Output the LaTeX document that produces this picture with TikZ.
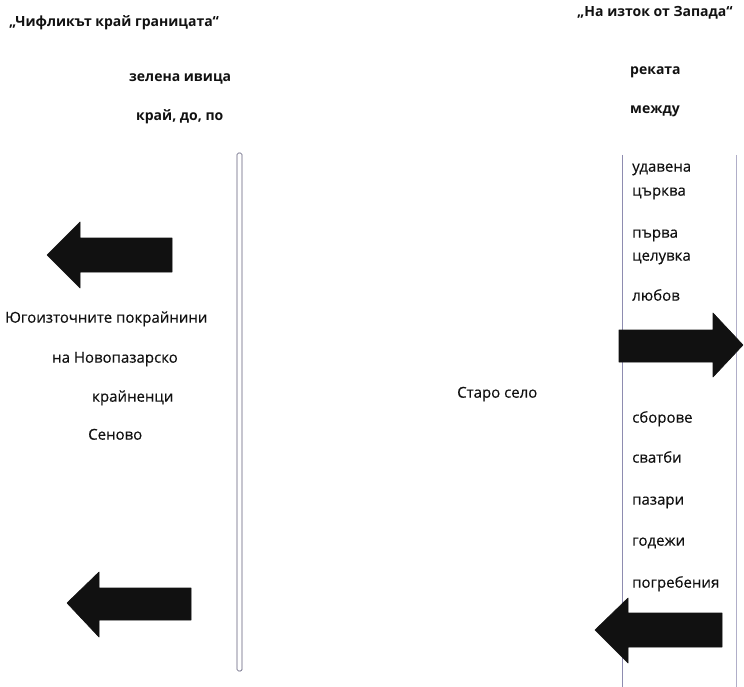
\documentclass[tikz,border=0pt]{standalone}
\usepackage{fontspec}
\setmainfont{Open Sans}
\newfontfamily\medfont[FakeBold=0.35]{Open Sans}
\definecolor{ink}{HTML}{111111}
\definecolor{barline}{HTML}{5E5C78}
\definecolor{colline}{HTML}{8E8CB0}
\begin{document}
\begin{tikzpicture}[x=1pt,y=-1pt,
  lbl/.style={inner sep=0pt,anchor=mid west,text=ink,font=\medfont\fontsize{15}{17}\selectfont},
  blbl/.style={lbl,font=\fontsize{14}{16}\selectfont\bfseries},
  bigarrow/.style={fill=ink,draw=ink,line width=0.6pt,line join=round}]
\useasboundingbox (0,0) rectangle (744,687);
% titles
\node[blbl] (t1) at (9,24) {„Чифликът край границата“};
\node[blbl] (t2) at (577,14) {„На изток от Запада“};
% left header
\node[blbl] (zi) at (129,79) {зелена ивица};
\node[blbl] (kd) at (136,118) {край, до, по};
% right header
\node[blbl] (rk) at (630,72) {реката};
\node[blbl] (md) at (630,111) {между};
% left bar
\draw[barline,line width=0.7pt,fill=white,rounded corners=1.5pt] (237,153) rectangle (242,671);
% right column lines
\draw[colline,line width=0.8pt] (622,155) -- (622,687);
\draw[colline!70,line width=0.8pt] (736,155) -- (736,687);
% left texts
\node[lbl] (yu) at (5,320) {Югоизточните покрайнини};
\node[lbl] (np) at (52,360) {на Новопазарско};
\node[lbl] (kr) at (92,399) {крайненци};
\node[lbl] (se) at (88,437) {Сеново};
% middle
\node[lbl] (ss) at (457,395) {Старо село};
% right column texts
\node[lbl] (r1) at (632,169) {удавена};
\node[lbl] (r2) at (632,193) {църква};
\node[lbl] (r3) at (632,235) {първа};
\node[lbl] (r4) at (632,258) {целувка};
\node[lbl] (r5) at (632,298) {любов};
\node[lbl] (r6) at (632,420) {сборове};
\node[lbl] (r7) at (632,460) {сватби};
\node[lbl] (r8) at (632,502) {пазари};
\node[lbl] (r9) at (632,543) {годежи};
\node[lbl] (r10) at (632,585) {погребения};
% arrows
\path[bigarrow] (47,255) -- (80,222) -- (80,238) -- (172,238) -- (172,272) -- (80,272) -- (80,288) -- cycle;
\path[bigarrow] (67,603) -- (99,572) -- (99,588) -- (191,588) -- (191,620) -- (99,620) -- (99,637) -- cycle;
\path[bigarrow] (743,345) -- (713,313) -- (713,330) -- (619,330) -- (619,362) -- (713,362) -- (713,377) -- cycle;
\path[bigarrow] (595,630) -- (628,598) -- (628,613) -- (722,613) -- (722,647) -- (628,647) -- (628,663) -- cycle;
\end{tikzpicture}
\end{document}
